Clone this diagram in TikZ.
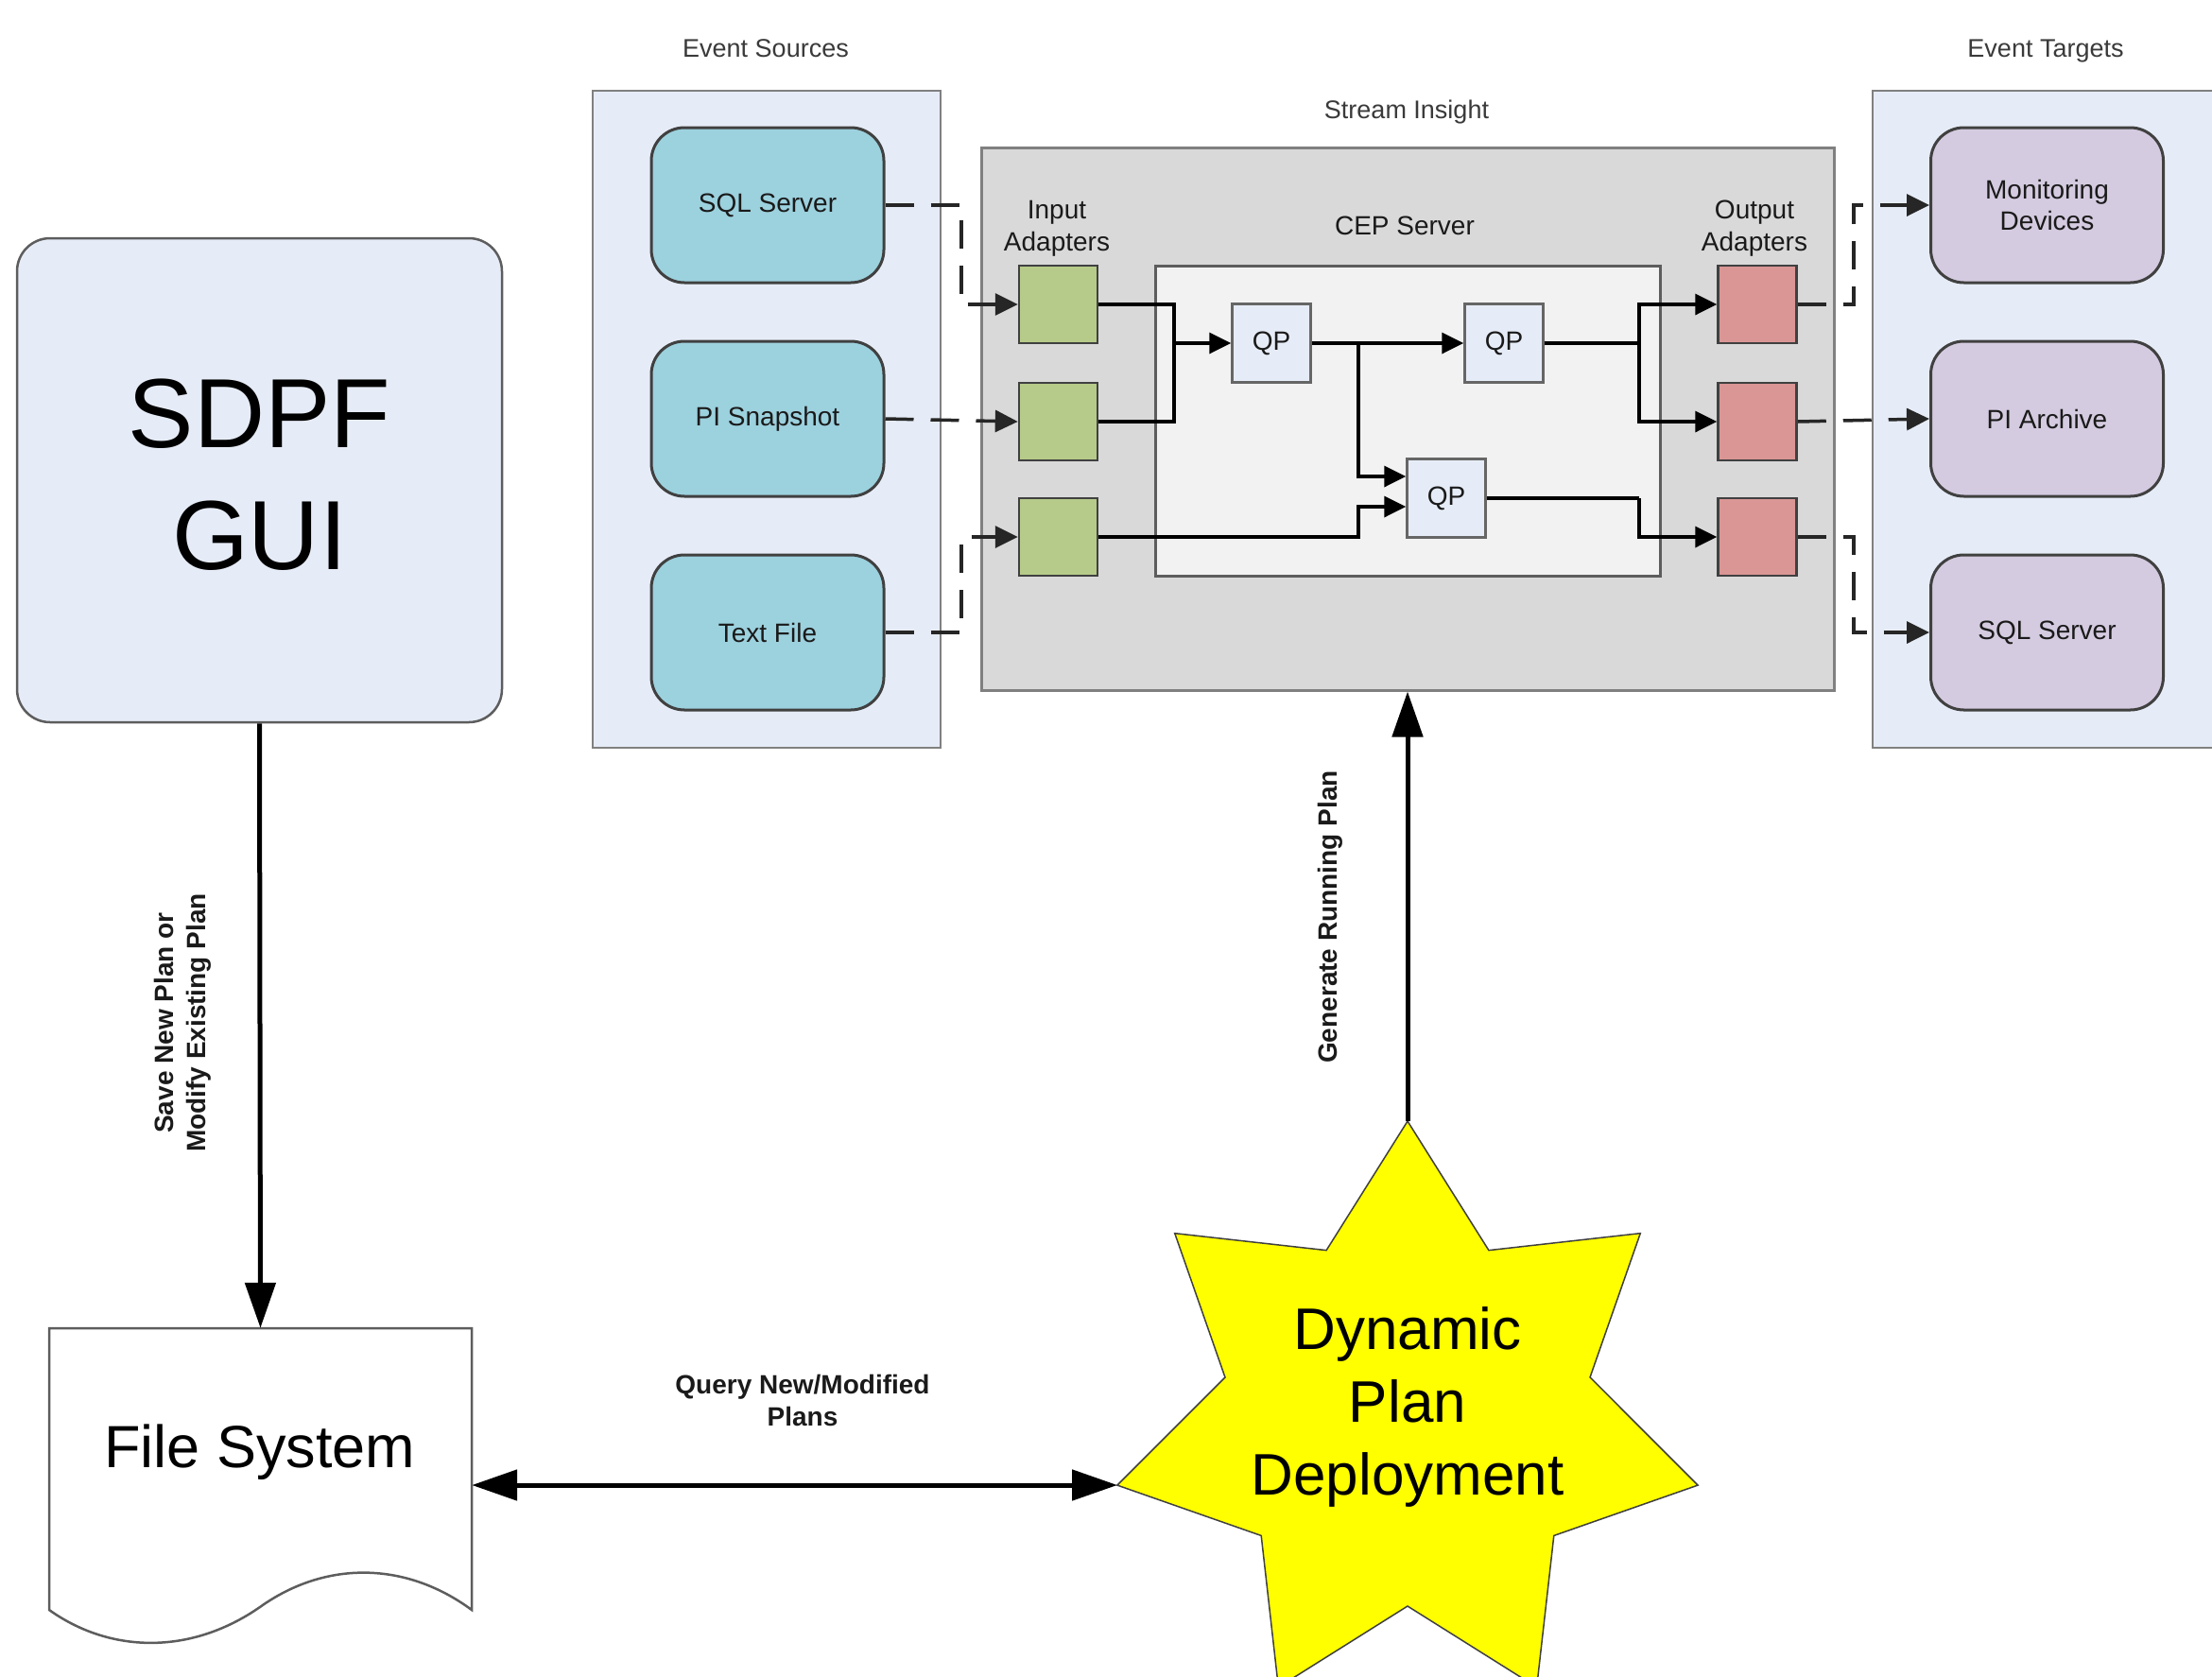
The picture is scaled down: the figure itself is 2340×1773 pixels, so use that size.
\documentclass[tikz,border=0pt]{standalone}
\usepackage{fontspec}
\setmainfont{Liberation Sans}
\usetikzlibrary{arrows.meta,calc}
\definecolor{panelfill}{HTML}{E6ECF7}
\definecolor{panelline}{HTML}{808080}
\definecolor{srcfill}{HTML}{9CD1DE}
\definecolor{tgtfill}{HTML}{D4CBE0}
\definecolor{greenfill}{HTML}{B6CB89}
\definecolor{redfill}{HTML}{D99694}
\definecolor{cepfill}{HTML}{D9D9D9}
\definecolor{innerfill}{HTML}{F2F2F2}
\definecolor{boxline}{HTML}{404040}
\definecolor{txt}{HTML}{1A1A1A}
\definecolor{lbl}{HTML}{3A3A3A}
\definecolor{staryellow}{HTML}{FFFF00}
\newcommand{\fsz}[2]{\fontsize{#1}{#2}\selectfont}
\begin{document}
\begin{tikzpicture}[x=1pt,y=-1pt,
 panel/.style={draw=panelline, fill=panelfill, line width=2.5pt, inner sep=0pt},
 rbox/.style={draw=boxline, line width=3pt, rounded corners=35pt, minimum width=246pt, minimum height=164pt, inner sep=0pt, align=center, text=txt, font=\fsz{28}{33}},
 src/.style={rbox, fill=srcfill},
 tgt/.style={rbox, fill=tgtfill},
 adapter/.style={draw=boxline, line width=2.5pt, minimum width=83pt, minimum height=82pt, inner sep=0pt},
 inad/.style={adapter, fill=greenfill},
 outad/.style={adapter, fill=redfill},
 qpbox/.style={draw=boxline!80, line width=2.5pt, fill=panelfill, minimum width=83pt, minimum height=83pt, inner sep=0pt, text=txt, font=\fsz{28}{33}},
 title/.style={text=lbl, font=\fsz{27}{33}, align=center, inner sep=0pt, text depth=0pt},
 hdr/.style={text=txt, font=\fsz{28}{34}, align=center, inner sep=0pt},
 edgelbl/.style={text=txt, font=\bfseries\fsz{28}{34}, align=center, inner sep=0pt},
 conn/.style={line width=3.5pt, draw=black, -{Triangle[length=23pt,width=22pt]}},
 plainconn/.style={line width=3.5pt, draw=black},
 dconn/.style={line width=3.5pt, draw=black!85, dash pattern=on 30pt off 18pt, -{Triangle[length=24pt,width=23pt]}},
 bigarrow/.style={line width=5pt, draw=black, -{Triangle[length=48pt,width=32pt]}},
 bigdouble/.style={line width=5pt, draw=black, {Triangle[length=48pt,width=32pt]}-{Triangle[length=48pt,width=32pt]}}
]
\useasboundingbox (0,0) rectangle (2340,1773);

% panels
\node[panel, minimum width=368pt, minimum height=695pt] (srcpanel) at (811,443.5) {};
\node[panel, minimum width=379pt, minimum height=695pt] (tgtpanel) at (2170.5,443.5) {};
\node[title] (srclbl) at (810,51) {Event Sources};
\node[title] (tgtlbl) at (2164,51) {Event Targets};

% sources and targets
\node[src] (s1) at (812,217) {SQL Server};
\node[src] (s2) at (812,443) {PI Snapshot};
\node[src] (s3) at (812,669) {Text File};
\node[tgt] (t1) at (2165.5,217) {Monitoring\\Devices};
\node[tgt] (t2) at (2165.5,443) {PI Archive};
\node[tgt] (t3) at (2165.5,669) {SQL Server};

% stream insight
\node[draw=panelline, fill=cepfill, line width=3pt, minimum width=902pt, minimum height=574pt, inner sep=0pt] (cep) at (1489,443) {};
\node[title] (silbl) at (1488,116) {Stream Insight};
\node[draw=boxline!85, fill=innerfill, line width=3pt, minimum width=534pt, minimum height=328pt, inner sep=0pt] (inner) at (1489,445) {};
\node[hdr] (inlbl) at (1118,242) {Input\\Adapters};
\node[hdr] (ceplbl) at (1486,239) {CEP Server};
\node[hdr] (outlbl) at (1856,242) {Output\\Adapters};

\node[inad] (g1) at (1119.5,322) {};
\node[inad] (g2) at (1119.5,446) {};
\node[inad] (g3) at (1119.5,568) {};
\node[outad] (r1) at (1859,322) {};
\node[outad] (r2) at (1859,446) {};
\node[outad] (r3) at (1859,568) {};
\node[qpbox] (qp1) at (1345,363) {QP};
\node[qpbox] (qp2) at (1591,363) {QP};
\node[qpbox] (qp3) at (1530,527) {QP};

% internal connectors
\coordinate (j1) at (1242,363);
\coordinate (j2) at (1437,363);
\coordinate (j3) at (1734,363);
\coordinate (j4) at (1734,527);
\coordinate (j5) at (1437,568);
\draw[plainconn] (g1.east) -| (j1);
\draw[plainconn] (g2.east) -| (j1);
\draw[conn] (j1) -- (qp1.west);
\draw[conn] (qp1.east) -- (qp2.west);
\draw[conn] (j2) |- ($(qp3.west)+(0,-23)$);
\draw[conn] (g3.east) -- (j5) |- ($(qp3.west)+(0,9)$);
\draw[plainconn] (qp2.east) -- (j3);
\draw[conn] (j3) |- (r1.west);
\draw[conn] (j3) |- (r2.west);
\draw[plainconn] (qp3.east) -- (j4);
\draw[conn] (j4) |- (r3.west);

% dashed connectors
\coordinate (din1) at (1017,217);
\coordinate (din3) at (1017,669);
\coordinate (dout1) at (1961,322);
\coordinate (dout3) at (1961,568);
\draw[dconn] (s1.east) -- (din1) |- (g1.west);
\draw[dconn] (s2.east) -- (g2.west);
\draw[dconn] (s3.east) -- (din3) |- (g3.west);
\draw[dconn] (r1.east) -- (dout1) |- (t1.west);
\draw[dconn] (r2.east) -- (t2.west);
\draw[dconn] (r3.east) -- (dout3) |- (t3.west);

% SDPF GUI
\node[draw=boxline!85, fill=panelfill, line width=2.5pt, rounded corners=35pt, minimum width=513pt, minimum height=512pt, inner sep=0pt] (gui) at (274.5,508) {};
\node[inner sep=0pt, align=center, text=black, font=\fsz{104}{129}] (guitext) at (274.5,502) {SDPF\\GUI};

% File system
\draw[draw=boxline!85, fill=white, line width=2.5pt] (52,1405) -- (499,1405) -- (499,1703)
  .. controls (430,1652) and (345,1650) .. (275,1700)
  .. controls (200,1752) and (115,1748) .. (52,1703) -- cycle;
\node[inner sep=0pt, minimum width=447pt, minimum height=298pt] (fs) at (275.5,1554) {};
\node[inner sep=0pt, text=black, font=\fsz{63}{75}] (fstext) at (275,1536) {File System};

% star
\begin{scope}[shift={(1489,1501)}]
\draw[fill=staryellow, draw=black!75, line width=1.5pt]
 (-90:315) -- (-64.29:198) -- (-38.57:315) -- (-12.86:198) -- (12.86:315) -- (38.57:198) -- (64.29:315) -- (90:198) -- (115.71:315) -- (141.43:198) -- (167.14:315) -- (192.86:198) -- (218.57:315) -- (244.29:198) -- cycle;
\end{scope}
\node[inner sep=0pt, align=center, text=black, font=\fsz{62}{77}] (dpd) at (1489,1488) {Dynamic\\Plan\\Deployment};
\coordinate (startop) at (1489,1186);
\coordinate (starleft) at (1182,1571);

% main arrows
\draw[bigarrow] (gui.south) -- (fs.north);
\draw[bigarrow] (startop) -- (cep.south);
\draw[bigdouble] (fs.east |- starleft) -- (starleft);

% edge labels
\node[edgelbl, rotate=90] (savelbl) at (193,1082) {Save New Plan or\\Modify Existing Plan};
\node[edgelbl, rotate=90] (genlbl) at (1407,970) {Generate Running Plan};
\node[edgelbl] (qlbl) at (849,1481) {Query New/Modified\\Plans};
\end{tikzpicture}
\end{document}
